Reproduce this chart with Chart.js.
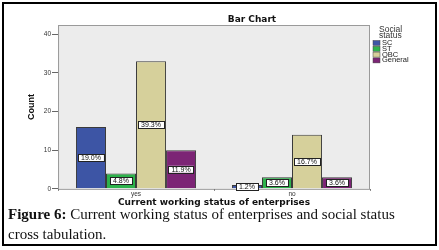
<!DOCTYPE html>
<html>
<head>
<meta charset="utf-8">
<script src="https://cdn.jsdelivr.net/npm/chart.js@4"></script>
<style>
  body { margin: 0; background: #fff; }
  #frame { position: absolute; left: 2px; top: 2px; width: 431px; height: 240px; border: 2px solid #000; }
  #wrap { position: absolute; left: 0; top: 0; width: 439px; height: 211px; }
  #caption { position: absolute; left: 8px; top: 204px; width: 428px; font-family: "Liberation Serif", serif; font-size: 15px; line-height: 20px; color: #111; }
</style>
</head>
<body>
<div id="frame"></div>
<div id="wrap"><canvas id="grafico" width="439" height="211"></canvas></div>
<div id="caption"><b>Figure 6:</b> Current working status of enterprises and social status<br>cross tabulation.</div>
<script>
var categorias = ["yes", "no"];
var grupos = ["SC", "ST", "OBC", "General"];
var sc = [16, 1];
var st = [4, 3];
var obc = [33, 14];
var general = [10, 3];
var pctSC = ["19.0%", "1.2%"];
var pctST = ["4.8%", "3.6%"];
var pctOBC = ["39.3%", "16.7%"];
var pctGeneral = ["11.9%", "3.6%"];
var yTicks = [0, 10, 20, 30, 40];

var cores = ["#3d55a5", "#2db24b", "#d6d09b", "#7c2475"];
var valores = [sc, st, obc, general];
var porcentagens = [pctSC, pctST, pctOBC, pctGeneral];

var datasets = grupos.map(function (g, i) {
  return {
    label: g,
    data: valores[i],
    pct: porcentagens[i],
    backgroundColor: cores[i],
    borderColor: "#3a3a3a",
    borderWidth: 1,
    categoryPercentage: 0.77,
    barPercentage: 1.0
  };
});

// fundo da area do grafico, titulo, legenda e rotulos de porcentagem
var extras = {
  id: "extras",
  beforeDraw: function (chart) {
    var a = chart.chartArea, ctx = chart.ctx;
    ctx.save();
    ctx.fillStyle = "#ececec";
    ctx.fillRect(a.left, a.top, a.right - a.left, a.bottom - a.top);
    ctx.strokeStyle = "#9a9a9a";
    ctx.lineWidth = 1;
    ctx.strokeRect(a.left + 0.5, a.top + 0.5, a.right - a.left - 1, a.bottom - a.top);
    ctx.restore();
  },
  afterDatasetsDraw: function (chart) {
    var ctx = chart.ctx;
    ctx.save();
    ctx.font = "7px Arial, 'Liberation Sans', sans-serif";
    ctx.textAlign = "center";
    ctx.textBaseline = "middle";
    chart.data.datasets.forEach(function (ds, i) {
      chart.getDatasetMeta(i).data.forEach(function (bar, j) {
        var txt = ds.pct[j];
        var y = (bar.y + bar.base) / 2;
        var w = ctx.measureText(txt).width + 6;
        var h = 7;
        ctx.fillStyle = "#fff";
        ctx.fillRect(bar.x - w / 2, y - h / 2, w, h);
        ctx.strokeStyle = "#222";
        ctx.lineWidth = 1;
        ctx.strokeRect(Math.round(bar.x - w / 2) + 0.5, Math.round(y - h / 2) + 0.5, Math.round(w), h);
        ctx.fillStyle = "#111";
        ctx.fillText(txt, bar.x, y + 0.5);
      });
    });
    ctx.restore();
  },
  afterDraw: function (chart) {
    var ctx = chart.ctx;
    ctx.save();
    ctx.fillStyle = "#111";
    ctx.font = "bold 9px 'DejaVu Sans', sans-serif";
    ctx.textAlign = "center";
    ctx.textBaseline = "middle";
    ctx.fillText("Bar Chart", 252, 20);
    // legenda
    ctx.font = "8.5px Arial, 'Liberation Sans', sans-serif";
    ctx.textAlign = "left";
    ctx.fillStyle = "#333";
    ctx.fillText("Social", 379, 30);
    ctx.fillText("status", 379, 35.5);
    ctx.font = "7.5px Arial, 'Liberation Sans', sans-serif";
    chart.data.datasets.forEach(function (ds, i) {
      var y = 43 + i * 5.8;
      ctx.fillStyle = ds.backgroundColor;
      ctx.fillRect(373, y - 2.5, 7, 5);
      ctx.strokeStyle = "#444";
      ctx.lineWidth = 0.5;
      ctx.strokeRect(373, y - 2.5, 7, 5);
      ctx.fillStyle = "#222";
      ctx.fillText(ds.label, 382, y);
    });
    ctx.restore();
  }
};

new Chart(document.getElementById("grafico"), {
  type: "bar",
  data: { labels: categorias, datasets: datasets },
  plugins: [extras],
  options: {
    responsive: false,
    animation: false,
    layout: { padding: { top: 25, right: 69, left: 26, bottom: 0 } },
    plugins: {
      legend: { display: false },
      tooltip: { enabled: false },
      title: { display: false }
    },
    scales: {
      x: {
        grid: { display: true, drawOnChartArea: false, drawTicks: true, tickLength: 2, color: "#777" },
        border: { display: false },
        ticks: { color: "#333", font: { size: 6.5, lineHeight: 1.1, family: "Arial, 'Liberation Sans', sans-serif" }, padding: 0 },
        title: {
          display: true,
          text: "Current working status of enterprises",
          color: "#111",
          font: { size: 9, weight: "bold", lineHeight: 1, family: "'DejaVu Sans', sans-serif" },
          padding: { top: 0, bottom: 4 }
        }
      },
      y: {
        min: 0,
        max: 42.4,
        afterBuildTicks: function (axis) {
          axis.ticks = yTicks.map(function (v) { return { value: v }; });
        },
        grid: { display: true, drawOnChartArea: false, drawTicks: true, tickLength: 6, color: "#666" },
        border: { display: false },
        ticks: { color: "#333", font: { size: 6.5, family: "Arial, 'Liberation Sans', sans-serif" }, padding: 1 },
        title: {
          display: true,
          text: "Count",
          color: "#111",
          font: { size: 9, weight: "bold", family: "Arial, 'Liberation Sans', sans-serif" },
          padding: { top: 0, bottom: 6 }
        }
      }
    }
  }
});
</script>
</body>
</html>
